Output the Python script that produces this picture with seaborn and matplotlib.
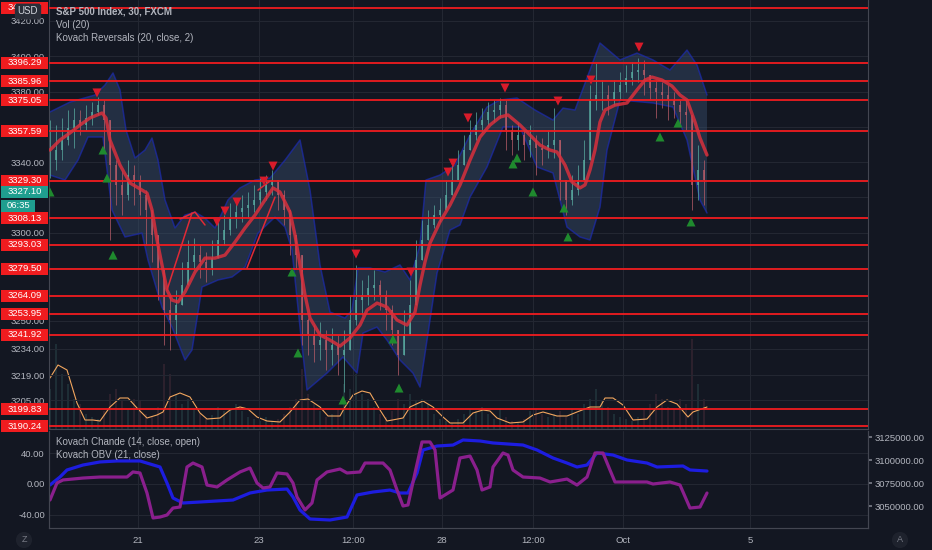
import numpy as np
import matplotlib
matplotlib.use("Agg")
import matplotlib.pyplot as plt
import matplotlib.transforms as mtransforms
from matplotlib.patches import Rectangle
import seaborn as sns

# ---------------- data ----------------
candle_t = list(range(0, 655, 6))
close = [3341.1,3346.8,3352.5,3359.3,3363.8,3361.0,3365.0,3368.4,3372.3,3363.8,
 3338.3,3327.0,3321.3,3332.6,3329.8,3321.3,3312.8,3298.6,3278.7,3256.0,
 3250.4,3258.9,3270.2,3283.3,3287.2,3283.3,3279.9,3285.5,3295.8,3301.4,
 3308.2,3311.6,3313.9,3315.6,3318.5,3323.0,3327.0,3329.8,3321.3,3312.8,
 3298.6,3287.2,3250.4,3241.9,3236.2,3239.0,3233.4,3236.2,3230.5,3233.4,
 3250.4,3261.7,3264.6,3268.5,3270.2,3264.6,3256.0,3244.7,3230.5,3241.9,
 3258.9,3284.4,3295.8,3304.3,3309.9,3312.8,3321.3,3329.8,3338.3,3346.8,
 3355.3,3361.0,3363.8,3368.4,3369.5,3372.3,3358.2,3352.5,3355.3,3349.6,
 3352.5,3348.0,3346.8,3349.6,3352.5,3329.8,3318.5,3324.1,3329.8,3341.1,
 3375.2,3378.0,3378.0,3375.2,3379.7,3383.7,3387.7,3391.1,3392.2,3389.4,
 3382.0,3379.7,3378.0,3375.2,3372.3,3368.4,3366.7,3327.0,3335.5,3329.8]
high = [3363.8,3361.0,3365.0,3369.5,3370.6,3369.5,3372.3,3374.0,3376.9,3375.2,
 3352.5,3341.1,3335.5,3341.1,3338.3,3332.6,3324.1,3312.8,3290.1,3273.1,
 3264.6,3267.4,3283.3,3295.8,3296.9,3292.9,3289.0,3295.8,3306.0,3309.9,
 3316.8,3319.6,3321.3,3323.0,3327.0,3330.9,3332.6,3335.5,3329.8,3324.1,
 3309.9,3298.6,3284.4,3251.5,3247.5,3249.2,3244.7,3245.8,3241.9,3244.7,
 3264.6,3281.6,3273.1,3275.9,3278.7,3273.1,3267.4,3258.9,3244.7,3256.0,
 3273.1,3295.8,3307.1,3312.8,3315.6,3319.6,3329.8,3338.3,3346.8,3355.3,
 3363.8,3368.4,3370.6,3374.0,3375.2,3376.3,3375.2,3361.0,3362.7,3358.2,
 3361.0,3355.3,3353.6,3358.2,3370.6,3346.8,3329.8,3332.6,3338.3,3352.5,
 3383.7,3396.2,3386.5,3383.7,3386.5,3391.1,3395.0,3396.7,3399.0,3397.9,
 3389.4,3386.5,3385.4,3383.7,3379.7,3375.2,3375.2,3352.5,3349.6,3341.1]
low = [3330.9,3335.5,3341.1,3349.6,3348.0,3355.3,3358.2,3361.0,3366.7,3346.8,
 3295.8,3315.6,3309.9,3318.5,3315.6,3309.9,3292.9,3283.3,3261.7,3236.2,
 3233.4,3241.9,3261.7,3273.1,3278.7,3274.2,3271.9,3275.9,3285.5,3292.9,
 3298.6,3302.6,3306.0,3308.2,3311.6,3315.6,3318.5,3321.3,3312.8,3304.3,
 3287.2,3279.9,3236.2,3230.5,3226.5,3227.7,3222.0,3224.8,3219.2,3209.5,
 3236.2,3247.5,3253.2,3258.9,3261.7,3256.0,3244.7,3236.2,3219.2,3233.4,
 3247.5,3267.4,3287.2,3295.8,3302.6,3306.0,3312.8,3321.3,3329.8,3338.3,
 3346.8,3352.5,3357.0,3361.0,3362.7,3365.0,3346.8,3344.0,3346.8,3341.1,
 3342.8,3332.6,3338.3,3342.3,3342.3,3318.5,3309.9,3315.6,3321.3,3329.8,
 3346.8,3369.5,3369.5,3366.7,3372.3,3375.2,3379.7,3383.7,3385.4,3378.0,
 3375.2,3365.0,3370.6,3363.8,3365.0,3361.0,3358.2,3312.8,3318.5,3315.6]
volume = [4000,8500,5500,4500,3000,2500,1500,1200,1000,1800,
 3500,4000,2800,2000,3000,2800,1500,1200,2200,6500,
 5500,3500,2500,3000,2000,1500,1000,1400,2200,1800,
 2000,2500,1800,1200,1000,800,1200,800,1000,1500,
 2200,3000,6000,3500,2500,1800,1200,1500,2000,4500,
 4000,5500,3500,3000,2200,1500,1200,1800,3000,2500,
 3500,2800,3000,2500,1500,1000,800,600,1000,1500,
 2000,1800,2200,1500,1000,2000,1200,800,600,1000,
 1800,2000,1500,1200,1500,1800,1200,2000,1500,2500,
 3000,4000,2800,2200,1500,1200,1000,800,1200,2000,
 2500,3500,3000,2200,2000,3000,2500,9000,4500,3000]

ma_t = [0,10,20,30,40,52,56,60,70,80,92,97,102,107,112,117,122,128,135,145,155,165,175,185,195,
        205,215,223,230,240,245,250,255,260,270,280,290,300,310,317,327,337,347,357,365,370,375,
        380,390,400,410,420,430,440,450,458,470,480,490,500,507,515,522,530,535,540,545,550,555,
        565,577,587,595,602,612,622,630,637,645,650,657]
ma_p = [3346.8,3352.5,3356.5,3361.0,3365.0,3367.8,3365.0,3352.5,3338.3,3328.1,3324.1,3322.4,
        3312.8,3295.8,3281.6,3267.4,3261.7,3260.6,3266.3,3277.6,3285.5,3285.5,3287.2,3294.6,
        3302.6,3309.9,3318.5,3325.3,3323.0,3311.6,3298.6,3281.6,3264.6,3251.5,3241.9,3239.0,
        3235.6,3240.2,3247.5,3256.0,3260.0,3257.7,3250.4,3247.5,3254.9,3270.2,3283.3,3294.0,
        3306.0,3315.6,3327.0,3341.1,3354.2,3361.0,3365.5,3366.7,3361.0,3355.3,3349.6,3346.8,
        3345.7,3338.3,3328.7,3325.3,3327.0,3335.5,3346.8,3362.7,3369.5,3372.3,3373.5,3380.9,
        3386.5,3388.2,3386.5,3383.1,3378.0,3375.2,3362.7,3353.6,3344.0]

band_up_t = [0,20,45,55,63,70,76,85,95,102,108,115,125,135,145,155,165,178,190,205,220,235,250,
             260,270,280,295,302,308,320,335,350,360,370,376,390,405,420,437,450,467,485,503,
             513,525,540,550,570,587,603,620,637,647,657]
band_up_p = [3368.4,3374.0,3378.0,3383.7,3390.5,3380.9,3358.2,3342.3,3346.8,3353.6,3341.1,
             3318.5,3302.6,3309.9,3311.6,3308.2,3302.6,3318.5,3325.3,3329.8,3330.9,3341.1,
             3352.5,3324.1,3281.6,3254.9,3251.5,3256.0,3279.9,3279.9,3277.6,3281.6,3273.1,
             3292.9,3329.8,3332.6,3338.3,3355.3,3371.2,3375.2,3376.3,3369.5,3363.8,3370.6,
             3369.5,3392.2,3407.5,3397.9,3401.8,3397.9,3392.2,3403.5,3395.0,3378.0]
band_lo_t = [0,15,28,38,53,62,75,92,98,112,122,135,142,152,168,182,195,208,225,235,242,250,257,
             277,293,307,313,327,337,350,363,370,377,387,400,410,420,437,453,470,487,503,517,
             530,540,550,557,570,603,623,637,650,657]
band_lo_p = [3332.6,3329.8,3341.1,3354.2,3354.2,3312.8,3297.5,3299.7,3284.4,3257.7,3246.4,
             3227.7,3233.4,3269.1,3273.1,3274.8,3280.4,3299.7,3308.8,3303.1,3290.1,3246.4,
             3210.7,3220.3,3229.4,3220.3,3243.0,3246.4,3239.0,3227.7,3220.3,3212.4,3239.0,
             3277.0,3301.4,3304.3,3320.1,3337.2,3359.9,3359.9,3337.2,3333.8,3303.1,3297.5,
             3295.8,3314.5,3346.8,3375.2,3373.5,3371.2,3352.5,3318.5,3311.1]

thin_segments = [
    ([117, 142], [3267.4, 3311.1]),
    ([130, 145, 155], [3307.7, 3311.6, 3304.3]),
    ([197, 225], [3279.9, 3320.1]),
    ([208, 220], [3324.1, 3329.2]),
]

sell_t = [47,167,175,187,214,223,306,361,398,403,418,455,508,541,589]
sell_p = [3379.2,3306.0,3312.2,3317.3,3329.2,3337.7,3287.8,3277.6,3334.3,3339.4,3365.0,
          3382.0,3374.6,3386.5,3405.2]
buy_t = [0,53,57,63,242,248,293,343,349,463,467,483,514,518,610,628,641]
buy_p = [3323.0,3346.8,3330.9,3287.2,3277.6,3231.7,3205.0,3239.6,3211.8,3338.9,3342.3,
         3323.0,3313.9,3297.5,3354.2,3362.1,3306.0]

levels = [3427.45,3396.29,3385.96,3375.05,3357.59,3329.30,3308.13,3293.03,3279.50,
          3264.09,3253.95,3241.92,3199.83,3190.24]

volma_t = [0,8,17,27,35,43,50,60,70,78,87,97,107,113,120,130,140,150,157,170,180,190,198,207,
           217,230,240,250,258,270,278,290,295,303,312,320,330,337,353,360,373,383,393,400,413,
           423,433,440,447,460,473,483,493,507,517,527,540,550,555,563,573,583,597,607,617,627,
           638,643,657]
volma_v = [5100,6400,5900,2600,900,900,800,2200,3100,3100,2100,1100,1400,1700,3200,3600,3200,
           1600,1000,1100,1900,2200,2000,1200,800,700,1700,2900,3000,2200,1300,1300,2200,3400,
           3800,3600,1900,800,1100,2200,2800,2200,1200,600,600,1600,1900,1800,1100,600,700,1400,
           1700,1300,1300,1700,2200,2200,3100,3100,2400,900,1000,2200,2900,2500,1200,1700,2200]

chande_t = [0,10,17,33,50,67,90,110,117,123,133,150,183,200,217,237,243,250,260,280,297,307,
            323,340,350,358,367,373,387,403,413,430,443,473,487,503,517,527,537,547,563,577,
            597,607,633,640,657]
chande_v = [-1.3,9.2,18.4,24.9,28.9,30.2,30.2,22.3,1.3,-18.4,-24.9,-23.6,-21.0,-11.8,-7.9,
            -6.6,-17.0,-34.1,-45.9,-47.2,-43.3,-14.4,-10.5,-7.9,-11.8,-11.8,14.4,44.6,49.8,
            51.1,57.7,56.4,53.8,51.1,44.6,34.1,27.5,22.3,24.9,40.7,38.0,31.5,27.5,22.3,23.6,
            18.4,17.0]
obv_t = [0,7,13,33,50,77,83,90,97,103,110,117,123,130,137,143,152,157,167,177,190,200,207,213,
         220,227,237,243,247,255,262,267,277,290,297,310,315,333,340,347,353,358,365,372,380,
         385,390,403,410,420,427,432,440,443,453,458,463,473,490,500,517,527,537,545,553,560,
         565,597,603,620,630,640,650,657]
obv_v = [3056500,3075000,3078300,3080400,3081500,3081500,3087000,3085900,3064100,3037000,
         3038000,3040200,3047800,3048900,3092400,3096700,3092400,3072800,3070700,3078300,
         3087000,3091300,3075000,3069600,3070700,3085900,3084800,3075000,3059800,3045700,
         3053300,3078300,3087000,3090200,3085900,3087000,3096700,3096700,3089100,3067400,
         3050000,3051100,3085900,3119600,3119600,3110900,3058700,3067400,3102200,3104300,
         3089100,3067400,3070700,3092400,3107600,3105400,3089100,3081500,3080400,3076100,
         3079300,3072800,3081500,3107600,3107600,3089100,3076100,3076100,3073900,3076100,
         3072800,3047800,3048900,3064100]

x_ticks = [88, 209, 303, 392, 483, 573, 700]
x_labels = ["21", "23", "12:00", "28", "12:00", "Oct", "5"]
price_ticks = [3420, 3400, 3380, 3360, 3340, 3320, 3300, 3280, 3250, 3234, 3219, 3205]
price_labels = ["3420.00", "3400.00", "3380.00", "", "3340.00", "", "3300.00", "",
                "3250.00", "3234.00", "3219.00", "3205.00"]
osc_ticks = [-40, 0, 40]
osc_labels = ["-40.00", "0.00", "40.00"]
obv_ticks = [3050000, 3075000, 3100000, 3125000]
obv_labels = ["3050000.00", "3075000.00", "3100000.00", "3125000.00"]
last_price = 3327.10
countdown = "06:35"

# ---------------- style ----------------
BG = "#131722"
GRID = "#242833"
TXT = "#b2b5be"
EDGE = "#434651"
RED = "#f01c1f"

sns.set_theme(style="dark", rc={"axes.facecolor": BG, "figure.facecolor": BG})
plt.rcParams["font.family"] = ["Liberation Sans", "DejaVu Sans"]

fig = plt.figure(figsize=(9.32, 5.5), dpi=100)
fig.patch.set_facecolor(BG)
L, W = 49 / 932, 819 / 932
ax = fig.add_axes([L, 121 / 550, W, 429 / 550])
vax = ax.twinx()
bx = fig.add_axes([L, 22 / 550, W, 97 / 550])
bx2 = bx.twinx()
lab = fig.add_axes([0, 121 / 550, L, 429 / 550])

XLIM = (-1, 818)
YLIM = (3188.57, 3431.91)

# volume pane (underneath)
vax.set_zorder(1)
ax.set_zorder(2)
lab.set_zorder(3)
ax.patch.set_visible(False)
vax.patch.set_visible(True)
vax.patch.set_facecolor(BG)

opens = [close[0]] + close[:-1]
o = np.array(opens); c = np.array(close)
up = c >= o
ccol = np.where(up, "#58a89f", "#b45b68")
vax.bar(candle_t, volume, width=2.2, color=ccol, alpha=0.16, linewidth=0)
sns.lineplot(x=volma_t, y=volma_v, ax=vax, color="#f2a65e", lw=0.8, sort=False, estimator=None)
vax.set_ylim(0, 42900)
vax.set_yticks([])
vax.tick_params(right=False, labelright=False)
for s in vax.spines.values():
    s.set_visible(False)

# band
poly_t = list(band_up_t) + list(band_lo_t[::-1])
poly_p = list(band_up_p) + list(band_lo_p[::-1])
ax.fill(poly_t, poly_p, color="#3a5272", alpha=0.42, lw=0, zorder=1)
sns.lineplot(x=band_up_t, y=band_up_p, ax=ax, color="#1c2bb0", alpha=0.7, lw=1.1,
             sort=False, estimator=None, zorder=2)
sns.lineplot(x=band_lo_t, y=band_lo_p, ax=ax, color="#1c2bb0", alpha=0.7, lw=1.1,
             sort=False, estimator=None, zorder=2)

# candles
h = np.maximum(np.array(high), np.maximum(o, c))
lw_ = np.minimum(np.array(low), np.minimum(o, c))
ax.vlines(candle_t, lw_, h, colors=ccol, lw=0.7, alpha=0.75, zorder=3)
ax.vlines(candle_t, np.minimum(o, c), np.maximum(o, c), colors=ccol, lw=1.3, alpha=0.85, zorder=3)

# levels
for p in levels:
    ax.axhline(p, color=RED, lw=1.3, zorder=4)

# MA and thin lines
sns.lineplot(x=ma_t, y=ma_p, ax=ax, color="#d9303c", alpha=0.85, lw=2.4, sort=False,
             estimator=None, zorder=5)
for st, sp in thin_segments:
    sns.lineplot(x=st, y=sp, ax=ax, color="#e02a36", lw=1.1, sort=False, estimator=None, zorder=5)

sns.scatterplot(x=sell_t, y=sell_p, ax=ax, marker="v", s=42, color="#d81b2a",
                edgecolor="none", zorder=6)
sns.scatterplot(x=buy_t, y=buy_p, ax=ax, marker="^", s=42, color="#1f8a2e",
                edgecolor="none", zorder=6)

ax.set_xlim(*XLIM)
ax.set_ylim(*YLIM)
ax.set_xticks(x_ticks)
ax.set_yticks(price_ticks)
ax.set_yticklabels(price_labels)
ax.tick_params(axis="x", length=0, labelbottom=False)
ax.tick_params(axis="y", length=0, pad=3, labelsize=6.8, labelcolor=TXT)
ax.grid(True, color=GRID, lw=0.7)
ax.set_xlabel(""); ax.set_ylabel("")
ax.spines["top"].set_visible(False)
for k in ["left", "right", "bottom"]:
    ax.spines[k].set_visible(True)
    ax.spines[k].set_color(EDGE)
    ax.spines[k].set_linewidth(0.8)

# oscillator pane
sns.lineplot(x=chande_t, y=chande_v, ax=bx, color="#1d1de0", lw=2.3, sort=False, estimator=None)
sns.lineplot(x=obv_t, y=obv_v, ax=bx2, color="#8a1f8d", lw=2.3, sort=False, estimator=None)
bx.set_xlim(*XLIM)
bx.set_ylim(-57.7, 69.5)
bx2.set_ylim(3026087, 3131522)
bx.set_xticks(x_ticks)
bx.set_xticklabels(x_labels)
bx.set_yticks(osc_ticks)
bx.set_yticklabels(osc_labels)
bx.tick_params(axis="x", length=3, color="#787b86", pad=3, labelsize=6.8, labelcolor=TXT)
bx.tick_params(axis="y", length=0, pad=3, labelsize=6.8, labelcolor=TXT)
bx.grid(True, color=GRID, lw=0.7)
bx.set_xlabel(""); bx.set_ylabel("")
bx2.set_yticks(obv_ticks)
bx2.set_yticklabels(obv_labels)
bx2.tick_params(axis="y", length=3, color="#787b86", pad=2, labelsize=6.8, labelcolor=TXT)
bx2.grid(False)
bx2.set_ylabel("")
for a in (bx, bx2):
    a.spines["top"].set_visible(False)
    for k in ["left", "right", "bottom"]:
        a.spines[k].set_visible(True)
        a.spines[k].set_color(EDGE)
        a.spines[k].set_linewidth(0.8)

# price labels on the left scale
lab.set_xlim(0, 49)
lab.set_ylim(*YLIM)
lab.axis("off")
lab.patch.set_visible(False)
PX = (YLIM[1] - YLIM[0]) / 429.0
HALF = 6 * PX


def scale_label(price, text, fc, x0=1, x1=48, dy=0):
    tr = mtransforms.offset_copy(lab.transData, fig=fig, x=0, y=-dy, units="dots")
    lab.add_patch(Rectangle((x0, price - HALF), x1 - x0, 2 * HALF, transform=tr,
                            facecolor=fc, edgecolor="none", clip_on=False))
    lab.text((x0 + x1) / 2, price, text, transform=tr, ha="center", va="center",
             color="white", fontsize=6.8, clip_on=False)


for p in levels:
    scale_label(p, f"{p:.2f}", RED)
scale_label(last_price, f"{last_price:.2f}", "#1f9e8f", dy=7)
scale_label(last_price, countdown, "#1f9e8f", x0=1, x1=35, dy=21)

# legends / captions
def ftxt(xp, yp, s, **kw):
    fig.text(xp / 932, 1 - yp / 550, s, va="center", ha="left", fontsize=7, color=TXT, **kw)


ftxt(56, 12, "S&P 500 Index, 30, FXCM", fontweight="bold")
ftxt(56, 25, "Vol (20)")
ftxt(56, 38, "Kovach Reversals (20, close, 2)")
ftxt(56, 442, "Kovach Chande (14, close, open)")
ftxt(56, 455, "Kovach OBV (21, close)")

fig.text(28 / 932, 1 - 11.5 / 550, "USD", ha="center", va="center", fontsize=7, color="#d1d4dc",
         bbox=dict(boxstyle="round,pad=0.3,rounding_size=0.25", fc="#2a2e39", ec="none"))
fig.text(24 / 932, 1 - 540 / 550, "Z", ha="center", va="center", fontsize=6.5, color="#787b86",
         bbox=dict(boxstyle="circle,pad=0.4", fc="#1e222d", ec="none"))
fig.text(900 / 932, 1 - 540 / 550, "A", ha="center", va="center", fontsize=6.5, color="#787b86",
         bbox=dict(boxstyle="circle,pad=0.4", fc="#1e222d", ec="none"))

fig.savefig("out.png", dpi=100, facecolor=BG)
